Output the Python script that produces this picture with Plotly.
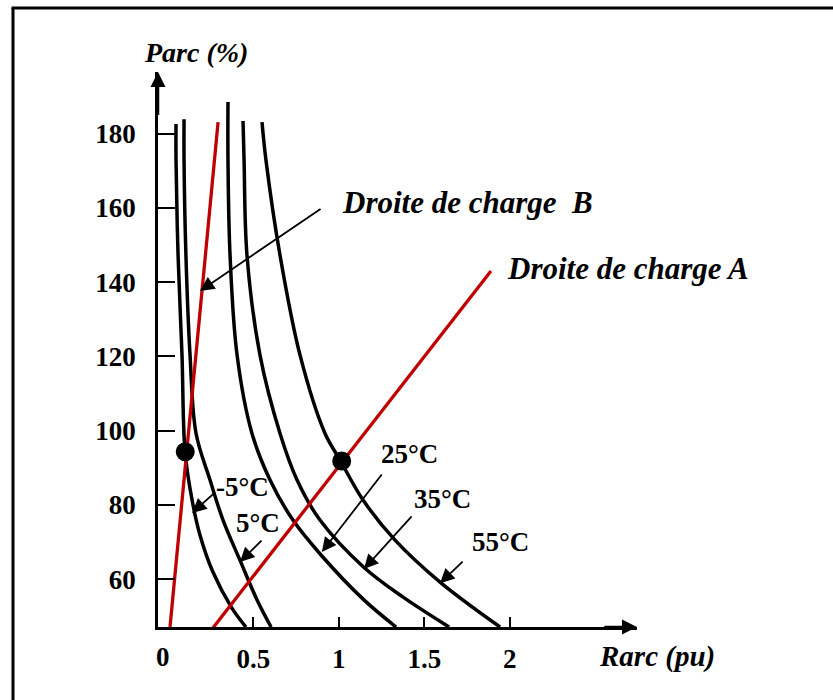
import plotly.graph_objects as go

# Arc power Parc (%) versus arc resistance Rarc (pu), one curve per ambient temperature
temp_labels = ["-5°C", "5°C", "25°C", "35°C", "55°C"]

rarc_m5 = [0.048, 0.048, 0.060, 0.083, 0.101, 0.142, 0.188, 0.264, 0.375, 0.457]
parc_m5 = [182.6, 172.9, 147.3, 120.4, 94.2, 81.3, 71.9, 61.9, 52.2, 47.1]

rarc_5 = [0.095, 0.095, 0.106, 0.130, 0.165, 0.247, 0.323, 0.422, 0.522, 0.604]
parc_5 = [183.9, 172.9, 147.3, 120.4, 99.3, 86.7, 75.9, 65.1, 54.4, 47.1]

rarc_25 = [0.352, 0.352, 0.364, 0.405, 0.492, 0.598, 0.732, 0.896, 1.147, 1.335]
parc_25 = [188.5, 172.9, 147.3, 120.4, 99.3, 86.7, 75.9, 66.5, 54.4, 47.1]

rarc_35 = [0.440, 0.446, 0.463, 0.539, 0.656, 0.756, 0.890, 1.146, 1.374, 1.645]
parc_35 = [183.4, 172.9, 147.3, 120.4, 99.3, 86.7, 75.9, 63.2, 55.2, 47.1]

rarc_55 = [0.551, 0.574, 0.656, 0.773, 0.919, 1.007, 1.142, 1.329, 1.592, 1.943]
parc_55 = [183.1, 172.9, 147.3, 120.4, 99.3, 92.1, 81.3, 70.5, 59.2, 47.1]

# Load lines A and B
droite_a_rarc = [0.258, 1.890]
droite_a_parc = [46.5, 143.0]
droite_b_rarc = [0.013, 0.294]
droite_b_parc = [47.1, 183.1]

# Operating points (intersections of load lines with the curves)
op_rarc = [0.102, 1.017]
op_parc = [94.3, 91.8]

y_ticks = [60, 80, 100, 120, 140, 160, 180]
x_ticks = [0.5, 1, 1.5, 2]
x_tick_text = ["0.5", "1", "1.5", "2"]

X_RANGE = [-0.0573, 2.744]
Y_RANGE = [47.1, 196.6]

FONT = "Liberation Serif, Times New Roman, serif"
RED = "#C00000"

fig = go.Figure()

curves = [
    (rarc_m5, parc_m5),
    (rarc_5, parc_5),
    (rarc_25, parc_25),
    (rarc_35, parc_35),
    (rarc_55, parc_55),
]
for (rx, py), name in zip(curves, temp_labels):
    fig.add_trace(go.Scatter(
        x=rx, y=py, mode="lines", name=name,
        line=dict(color="black", width=3.5, shape="spline", smoothing=1.0),
        showlegend=False, hoverinfo="skip", cliponaxis=False,
    ))

for rx, py, name in [(droite_b_rarc, droite_b_parc, "Droite de charge B"),
                     (droite_a_rarc, droite_a_parc, "Droite de charge A")]:
    fig.add_trace(go.Scatter(
        x=rx, y=py, mode="lines", name=name,
        line=dict(color=RED, width=3.3),
        showlegend=False, hoverinfo="skip", cliponaxis=False,
    ))

fig.add_trace(go.Scatter(
    x=op_rarc, y=op_parc, mode="markers",
    marker=dict(color="black", size=19),
    showlegend=False, hoverinfo="skip", cliponaxis=False,
))

annotations = []

# Axis arrowheads
annotations.append(dict(x=X_RANGE[0], y=Y_RANGE[1], ax=X_RANGE[0], ay=Y_RANGE[1] - 12,
                        xref="x", yref="y", axref="x", ayref="y", text="",
                        showarrow=True, arrowhead=2, arrowsize=1.2, arrowwidth=2.5,
                        arrowcolor="black"))
annotations.append(dict(x=X_RANGE[1], y=Y_RANGE[0], ax=X_RANGE[1] - 0.2, ay=Y_RANGE[0],
                        xref="x", yref="y", axref="x", ayref="y", text="",
                        showarrow=True, arrowhead=2, arrowsize=1.2, arrowwidth=2.5,
                        arrowcolor="black"))

# Pointer arrows (tip, tail)
pointers = [
    ((0.142, 77.8), (0.277, 83.4)),
    ((0.422, 64.6), (0.557, 70.8)),
    ((0.901, 67.3), (1.258, 88.6)),
    ((1.147, 62.7), (1.434, 77.3)),
    ((1.592, 58.9), (1.733, 65.1)),
    ((0.188, 137.6), (0.902, 160.0)),
]
for (tx, ty), (sx, sy) in pointers:
    annotations.append(dict(x=tx, y=ty, ax=sx, ay=sy, xref="x", yref="y",
                            axref="x", ayref="y", text="", showarrow=True,
                            arrowhead=2, arrowsize=1.6, arrowwidth=1.8,
                            arrowcolor="black"))

# Temperature labels
temp_pos = [(0.434, 84.8), (0.528, 75.1), (1.416, 93.7), (1.609, 81.6), (1.948, 70.0)]
for (lx, ly), txt in zip(temp_pos, temp_labels):
    annotations.append(dict(x=lx, y=ly, xref="x", yref="y", text="<b>%s</b>" % txt,
                            showarrow=False, xanchor="center", yanchor="middle",
                            font=dict(family=FONT, size=27, color="black")))

# Load line labels
annotations.append(dict(x=1.008, y=161.5, xref="x", yref="y",
                        text="<b><i>Droite de charge  B</i></b>", showarrow=False,
                        xanchor="left", yanchor="middle",
                        font=dict(family=FONT, size=31, color="black")))
annotations.append(dict(x=1.973, y=143.8, xref="x", yref="y",
                        text="<b><i>Droite de charge A</i></b>", showarrow=False,
                        xanchor="left", yanchor="middle",
                        font=dict(family=FONT, size=31, color="black")))

# Axis titles
annotations.append(dict(x=0.0793, y=1.036, xref="paper", yref="paper",
                        text="<b><i>Parc (%)</i></b>", showarrow=False,
                        xanchor="center", yanchor="middle",
                        font=dict(family=FONT, size=28, color="black")))
annotations.append(dict(x=1.0418, y=-0.054, xref="paper", yref="paper",
                        text="<b><i>Rarc (pu)</i></b>", showarrow=False,
                        xanchor="center", yanchor="middle",
                        font=dict(family=FONT, size=29, color="black")))

# Origin label
annotations.append(dict(x=-0.030, y=Y_RANGE[0], xref="x", yref="y", text="<b>0</b>",
                        showarrow=False, xanchor="center", yanchor="middle", yshift=-30,
                        font=dict(family=FONT, size=27, color="black")))

# Outer frame (top and left edges)
shapes = [
    dict(type="line", xref="paper", yref="paper", x0=-0.3027, y0=-0.1315,
         x1=-0.3027, y1=1.1153, line=dict(color="black", width=3)),
    dict(type="line", xref="paper", yref="paper", x0=-0.3058, y0=1.1153,
         x1=1.4092, y1=1.1153, line=dict(color="black", width=3)),
]

fig.update_layout(
    width=833, height=700,
    margin=dict(l=158, r=196, t=72, b=73),
    paper_bgcolor="white", plot_bgcolor="white",
    annotations=annotations, shapes=shapes,
    showlegend=False,
)
fig.update_xaxes(
    range=X_RANGE, showgrid=False, zeroline=False,
    showline=True, linecolor="black", linewidth=3,
    ticks="inside", ticklen=10, tickwidth=2, tickcolor="black",
    tickvals=x_ticks, ticktext=x_tick_text, ticklabelstandoff=6,
    tickfont=dict(family=FONT, size=27, color="black", weight="bold"),
)
fig.update_yaxes(
    range=Y_RANGE, showgrid=False, zeroline=False,
    showline=True, linecolor="black", linewidth=2.5,
    ticks="inside", ticklen=17, tickwidth=2, tickcolor="black",
    tickvals=y_ticks, ticklabelstandoff=14,
    tickfont=dict(family=FONT, size=27, color="black", weight="bold"),
)

fig.write_html("out.html")
